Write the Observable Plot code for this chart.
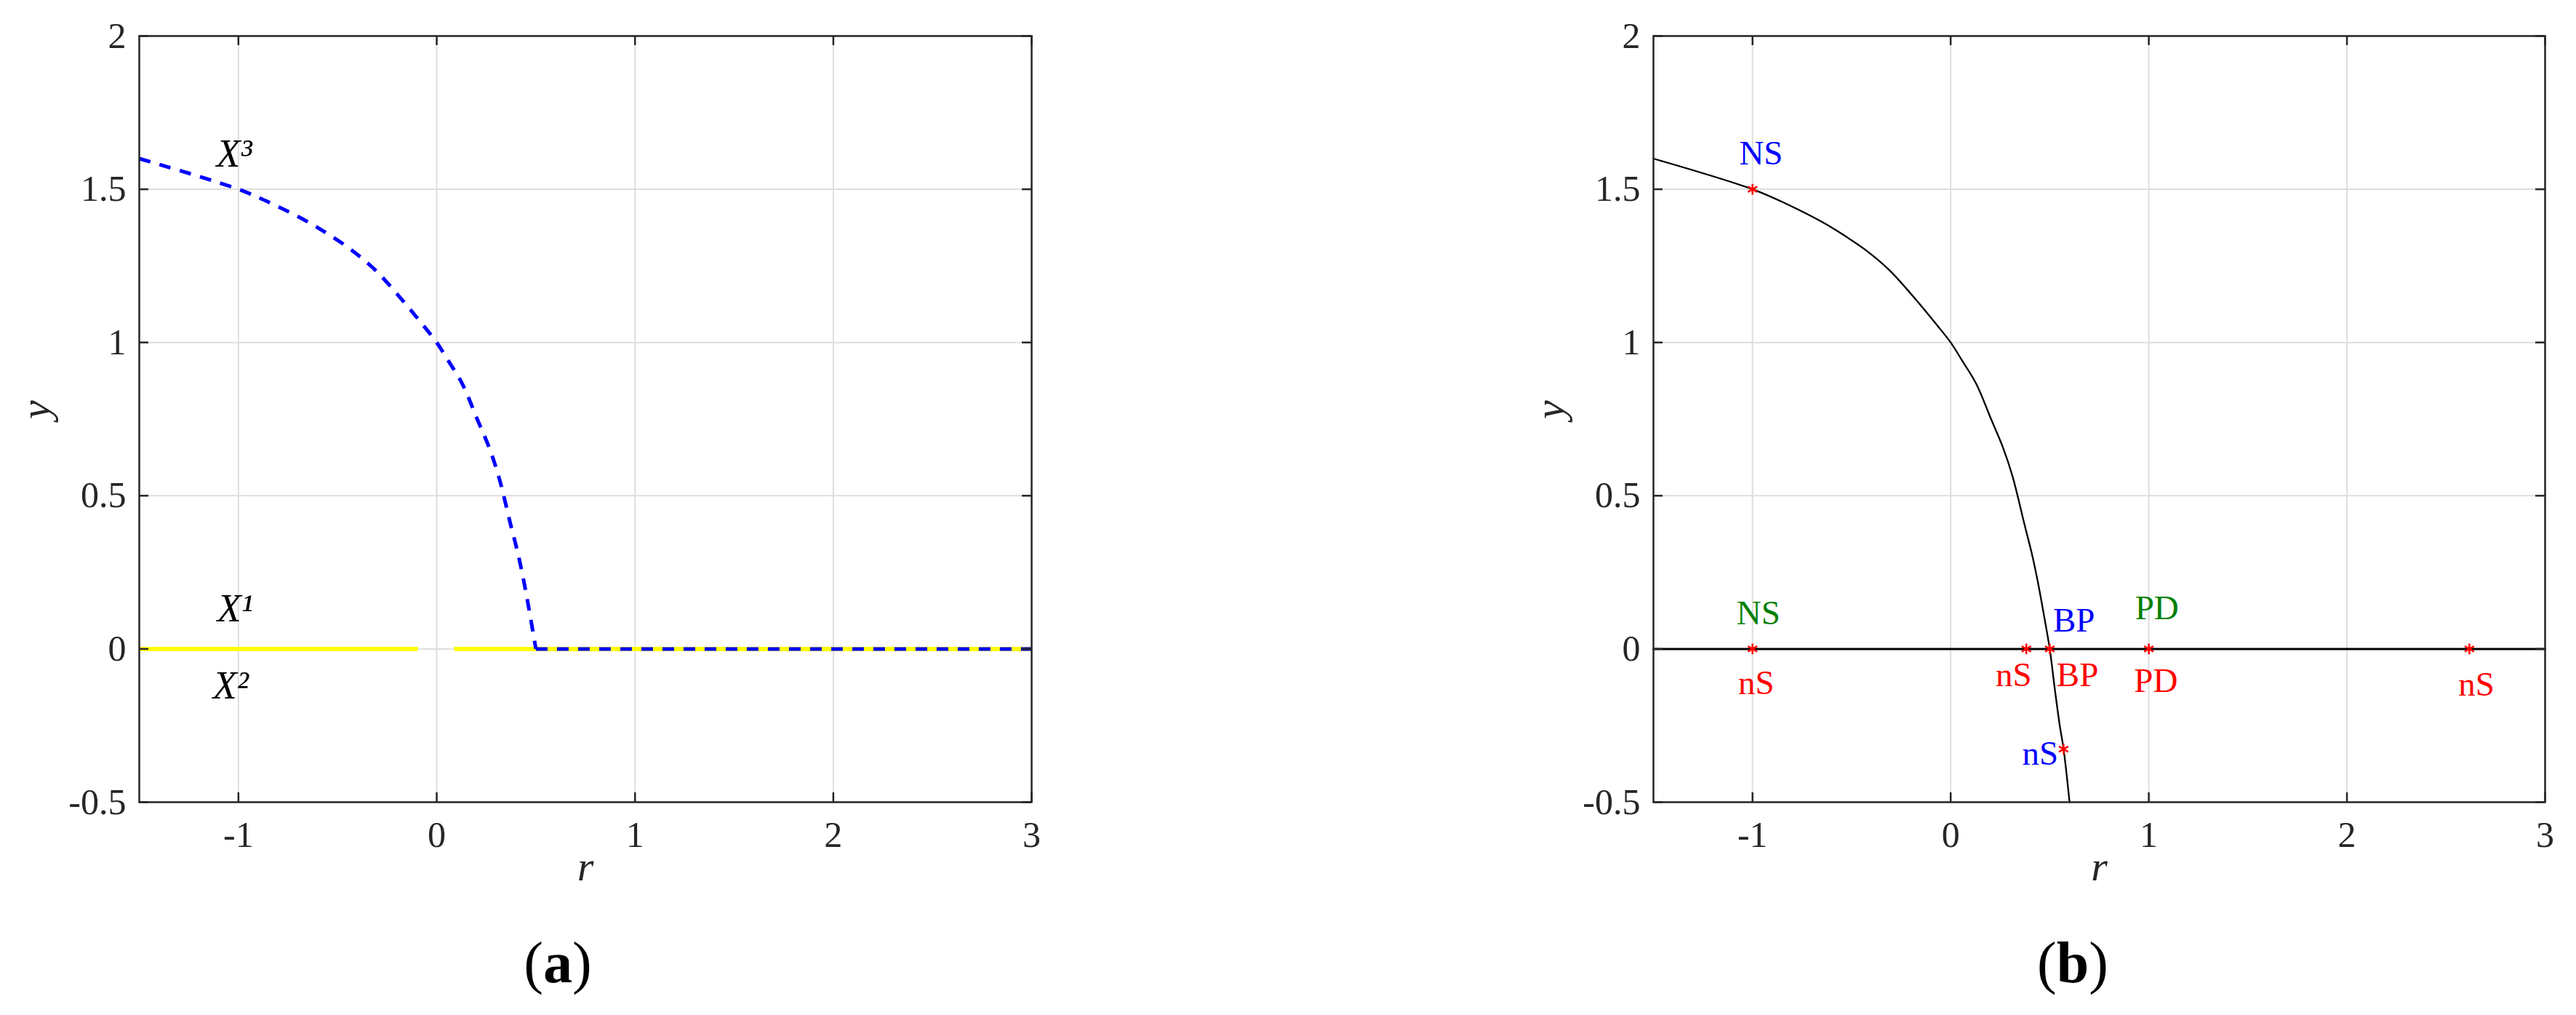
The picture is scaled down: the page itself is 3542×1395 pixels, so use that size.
<!DOCTYPE html>
<html><head><meta charset="utf-8">
<script src="https://cdn.jsdelivr.net/npm/d3@7"></script>
<script src="https://cdn.jsdelivr.net/npm/@observablehq/plot@0.6"></script>
<style>
body{margin:0;background:#fff;width:3542px;height:1395px;position:relative;overflow:hidden;font-family:"Liberation Serif",serif}
.panel{position:absolute;top:0}
.panel svg{max-width:none;font-family:"Liberation Serif",serif}
.cap{position:absolute;top:1283px;font-size:80px;line-height:80px;text-align:center;width:400px;color:#000;font-family:"Liberation Serif",serif}
</style></head><body>
<div id="pa" class="panel" style="left:0;width:1560px"></div>
<div id="pb" class="panel" style="left:1780px;width:1762px"></div>
<div class="cap" style="left:567px">(<b>a</b>)</div>
<div class="cap" style="left:2650px">(<b>b</b>)</div>
<script>
// axes
const rDomain = [-1.5, 3];
const yDomain = [-0.5, 2];
const xTicks = [-1, 0, 1, 2, 3];
const xTickLabels = ["-1", "0", "1", "2", "3"];
const yTicks = [-0.5, 0, 0.5, 1, 1.5, 2];
const yTickLabels = ["-0.5", "0", "0.5", "1", "1.5", "2"];
const xLabel = "r";
const yLabel = "y";

// panel (a): X^3 branch (blue dashed)
const x3R = [-1.5, -1.0, -0.825, -0.654, -0.556, -0.434, -0.311, -0.189, -0.067, 0.0, 0.055, 0.129, 0.204, 0.263, 0.312, 0.373, 0.410, 0.441, 0.468, 0.5];
const x3Y = [1.600, 1.5, 1.451, 1.395, 1.357, 1.304, 1.237, 1.150, 1.055, 1.0, 0.944, 0.865, 0.750, 0.659, 0.564, 0.405, 0.310, 0.215, 0.120, 0];
const x3TailR = [0.5, 3];
const x3TailY = [0, 0];
// panel (a): X^1 / X^2 branch (yellow), two pieces
const yellowSeg = ["left", "left", "right", "right"];
const yellowR = [-1.5, -0.095, 0.088, 3];
const yellowY = [0, 0, 0, 0];
// panel (a) labels
const aLabelText = ["X³", "X¹", "X²"];
const aLabelR = [-1.111, -1.107, -1.129];
const aLabelY = [1.616, 0.130, -0.120];

// panel (b): curved branch (black)
const bCurveR = [-1.5, -1.0, -0.825, -0.654, -0.556, -0.434, -0.311, -0.189, -0.067, 0.0, 0.055, 0.129, 0.204, 0.263, 0.312, 0.373, 0.410, 0.441, 0.468, 0.5, 0.526, 0.551, 0.570, 0.600];
const bCurveY = [1.600, 1.5, 1.451, 1.395, 1.357, 1.304, 1.237, 1.150, 1.055, 1.0, 0.944, 0.865, 0.750, 0.659, 0.564, 0.405, 0.310, 0.215, 0.120, 0, -0.133, -0.252, -0.327, -0.5];
// panel (b): trivial branch y = 0
const bZeroR = [-1.5, 3];
const bZeroY = [0, 0];
// panel (b): special points (red asterisks)
const starR = [-1, -1, 0.382, 0.5, 1, 2.618, 0.570];
const starY = [1.5, 0, 0, 0, 0, 0, -0.327];
// panel (b): point labels
const bLabelText = ["NS", "NS", "nS", "nS", "BP", "BP", "PD", "PD", "nS", "nS"];
const bLabelR = [-0.957, -0.970, -0.981, 0.318, 0.622, 0.640, 1.041, 1.036, 2.653, 0.452];
const bLabelY = [1.617, 0.116, -0.112, -0.085, 0.093, -0.086, 0.133, -0.105, -0.117, -0.343];
const bLabelColor = ["#0000ff", "#008000", "#ff0000", "#ff0000", "#0000ff", "#ff0000", "#008000", "#ff0000", "#ff0000", "#0000ff"];

const FONT = "'Liberation Serif', serif";
const AX = "#262626";
const GRID = "#dedede";
const SVGSTYLE = "font-family: 'Liberation Serif', serif; background: white; max-width: none;";

function frameMarks(W, H, m) {
  const PW = W - m.left - m.right, PH = H - m.top - m.bottom;
  const tl = 13;
  return [
    Plot.tickX(xTicks, {x: d => d, insetTop: PH - tl, stroke: AX, strokeWidth: 2.5}),
    Plot.tickX(xTicks, {x: d => d, insetBottom: PH - tl, stroke: AX, strokeWidth: 2.5}),
    Plot.tickY(yTicks, {y: d => d, insetRight: PW - tl, stroke: AX, strokeWidth: 2.5}),
    Plot.tickY(yTicks, {y: d => d, insetLeft: PW - tl, stroke: AX, strokeWidth: 2.5}),
    Plot.frame({stroke: AX, strokeWidth: 2.5}),
    Plot.axisX(xTicks, {anchor: "bottom", tickSize: 0, tickPadding: 26, fontSize: 50, fontFamily: FONT, fill: AX, label: null,
      tickFormat: d => xTickLabels[xTicks.indexOf(d)]}),
    Plot.axisY(yTicks, {anchor: "left", tickSize: 0, tickPadding: 18, fontSize: 50, fontFamily: FONT, fill: AX, label: null,
      tickFormat: d => yTickLabels[yTicks.indexOf(d)]}),
    Plot.text([xLabel], {text: d => d, frameAnchor: "bottom", dy: 107, fontSize: 58, fontFamily: FONT, fontStyle: "italic", fill: AX}),
    Plot.text([yLabel], {text: d => d, frameAnchor: "left", dx: -142, rotate: -90, fontSize: 58, fontFamily: FONT, fontStyle: "italic", fill: AX})
  ];
}
function gridMarks() {
  return [
    Plot.gridX(xTicks, {stroke: GRID, strokeOpacity: 1, strokeWidth: 2}),
    Plot.gridY(yTicks, {stroke: GRID, strokeOpacity: 1, strokeWidth: 2})
  ];
}

// ---- panel (a)
{
  const W = 1560, H = 1260, m = {left: 191, right: 142, top: 49, bottom: 158};
  const x3 = x3R.map((r, i) => ({r, y: x3Y[i]}));
  const x3Tail = x3TailR.map((r, i) => ({r, y: x3TailY[i]}));
  const yel = yellowR.map((r, i) => ({r, y: yellowY[i], seg: yellowSeg[i]}));
  const labs = aLabelText.map((t, i) => ({t, r: aLabelR[i], y: aLabelY[i]}));
  const dash = {stroke: "#0000ff", strokeWidth: 5, strokeDasharray: "16,13", strokeLinecap: "butt"};
  const chart = Plot.plot({
    width: W, height: H,
    marginLeft: m.left, marginRight: m.right, marginTop: m.top, marginBottom: m.bottom,
    style: SVGSTYLE,
    x: {domain: rDomain},
    y: {domain: yDomain},
    marks: [
      ...gridMarks(),
      Plot.line(yel, {x: "r", y: "y", z: "seg", stroke: "#ffff00", strokeWidth: 6, strokeLinecap: "butt"}),
      Plot.line(x3, {x: "r", y: "y", curve: "catmull-rom", ...dash}),
      Plot.line(x3Tail, {x: "r", y: "y", ...dash}),
      Plot.text(labs, {x: "r", y: "y", text: "t", textAnchor: "start", fontSize: 54, fontFamily: FONT, fontStyle: "italic", fill: "#000"}),
      ...frameMarks(W, H, m)
    ]
  });
  document.getElementById("pa").appendChild(chart);
}

// ---- panel (b)
{
  const W = 1762, H = 1260, m = {left: 493, right: 43, top: 49, bottom: 158};
  const curve = bCurveR.map((r, i) => ({r, y: bCurveY[i]}));
  const zero = bZeroR.map((r, i) => ({r, y: bZeroY[i]}));
  const stars = starR.map((r, i) => ({r, y: starY[i]}));
  const labs = bLabelText.map((t, i) => ({t, r: bLabelR[i], y: bLabelY[i], c: bLabelColor[i]}));
  const chart = Plot.plot({
    width: W, height: H,
    marginLeft: m.left, marginRight: m.right, marginTop: m.top, marginBottom: m.bottom,
    style: SVGSTYLE,
    x: {domain: rDomain},
    y: {domain: yDomain},
    marks: [
      ...gridMarks(),
      Plot.line(zero, {x: "r", y: "y", stroke: "#000", strokeWidth: 3}),
      Plot.line(curve, {x: "r", y: "y", curve: "catmull-rom", stroke: "#000", strokeWidth: 2.3}),
      Plot.dot(stars, {x: "r", y: "y", symbol: "asterisk", r: 7, stroke: "#ff0000", strokeWidth: 2.5}),
      Plot.text(labs, {x: "r", y: "y", text: "t", fill: d => d.c, fontSize: 47, fontFamily: FONT}),
      ...frameMarks(W, H, m)
    ]
  });
  document.getElementById("pb").appendChild(chart);
}
</script>
</body></html>
